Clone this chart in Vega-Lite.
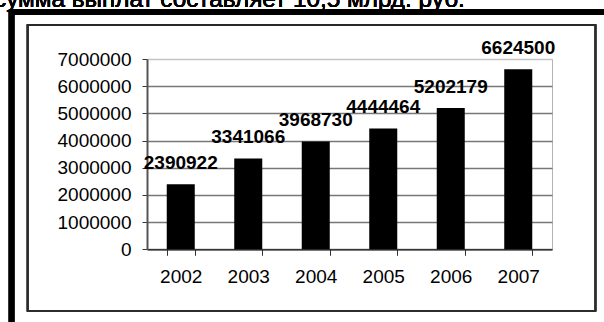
{
  "$schema": "https://vega.github.io/schema/vega-lite/v6.json",
  "width": 405,
  "height": 190.3,
  "autosize": {"type": "none"},
  "padding": {"left": 147, "top": 59, "right": 52, "bottom": 72.7},
  "background": "white",
  "config": {
    "view": {"stroke": "#b4b4b4", "strokeWidth": 1},
    "font": "Liberation Sans",
    "text": {"font": "Liberation Sans"},
    "axisY": {
      "title": null,
      "format": "d",
      "labelFontSize": 19,
      "labelColor": "#000000",
      "labelPadding": 11,
      "labelOverlap": false,
      "labelFlush": false,
      "tickSize": 5,
      "tickColor": "#333333",
      "domainColor": "#555555",
      "domainWidth": 2,
      "grid": true,
      "gridWidth": 1.5
    }
  },
  "data": {
    "values": [
      {"year": "2002", "amount": 2390922},
      {"year": "2003", "amount": 3341066},
      {"year": "2004", "amount": 3968730},
      {"year": "2005", "amount": 4444464},
      {"year": "2006", "amount": 5202179},
      {"year": "2007", "amount": 6624500}
    ]
  },
  "resolve": {"scale": {"x": "independent"}},
  "layer": [
    {
      "mark": {"type": "rect", "filled": false, "stroke": "#000000", "strokeWidth": 5.5, "clip": false},
      "encoding": {
        "x": {"datum": -2.007, "type": "quantitative", "scale": {"domain": [0, 6], "nice": false, "zero": false}, "axis": null},
        "x2": {"datum": 8.5},
        "y": {
          "datum": 8719680, "type": "quantitative",
          "scale": {"domain": [0, 7000000], "nice": false},
          "axis": {
            "values": [0, 1000000, 2000000, 3000000, 4000000, 5000000, 6000000, 7000000],
            "gridColor": {"condition": {"test": "datum.value === 7000000", "value": "#c4c4c4"}, "value": "#777777"}
          }
        },
        "y2": {"datum": -6000000}
      }
    },
    {
      "mark": {"type": "rect", "filled": false, "stroke": "#2a2a2a", "strokeWidth": 1.6, "clip": false},
      "encoding": {
        "x": {"datum": -1.769, "type": "quantitative", "scale": {"domain": [0, 6], "nice": false, "zero": false}, "axis": null},
        "x2": {"datum": 6.644},
        "y": {
          "datum": 8250690, "type": "quantitative",
          "scale": {"domain": [0, 7000000], "nice": false},
          "axis": {
            "values": [0, 1000000, 2000000, 3000000, 4000000, 5000000, 6000000, 7000000],
            "gridColor": {"condition": {"test": "datum.value === 7000000", "value": "#c4c4c4"}, "value": "#777777"}
          }
        },
        "y2": {"datum": -2258600}
      }
    },
    {
      "mark": {
        "type": "text",
        "text": "сумма выплат составляет 10,5 млрд. руб.",
        "align": "left",
        "baseline": "alphabetic",
        "fontSize": 24.3,
        "fontWeight": "normal",
        "color": "#000000",
        "clip": false
      },
      "encoding": {
        "x": {"datum": -2.267, "type": "quantitative", "scale": {"domain": [0, 6], "nice": false, "zero": false}, "axis": null},
        "y": {
          "datum": 8923855, "type": "quantitative",
          "scale": {"domain": [0, 7000000], "nice": false},
          "axis": {
            "values": [0, 1000000, 2000000, 3000000, 4000000, 5000000, 6000000, 7000000],
            "gridColor": {"condition": {"test": "datum.value === 7000000", "value": "#c4c4c4"}, "value": "#777777"}
          }
        }
      }
    },
    {
      "encoding": {
        "x": {
          "field": "year",
          "type": "ordinal",
          "scale": {"paddingInner": 0.585, "paddingOuter": 0.2925},
          "axis": {
            "title": null,
            "labelAngle": 0,
            "labelFontSize": 19,
            "labelColor": "#000000",
            "labelPadding": 12,
            "labelOverlap": false,
            "tickBand": "extent",
            "tickSize": 6,
            "tickColor": "#333333",
            "domainColor": "#222222",
            "domainWidth": 1.3,
            "grid": false
          }
        },
        "y": {
          "field": "amount",
          "type": "quantitative",
          "scale": {"domain": [0, 7000000], "nice": false},
          "axis": {
            "values": [0, 1000000, 2000000, 3000000, 4000000, 5000000, 6000000, 7000000],
            "gridColor": {"condition": {"test": "datum.value === 7000000", "value": "#c4c4c4"}, "value": "#777777"}
          }
        }
      },
      "layer": [
        {"mark": {"type": "bar", "color": "#000000"}},
        {
          "mark": {
            "type": "text",
            "fontSize": 19,
            "fontWeight": "bold",
            "baseline": "alphabetic",
            "dy": -15,
            "color": "#000000"
          },
          "encoding": {"text": {"field": "amount", "type": "quantitative", "format": "d"}}
        }
      ]
    }
  ]
}
